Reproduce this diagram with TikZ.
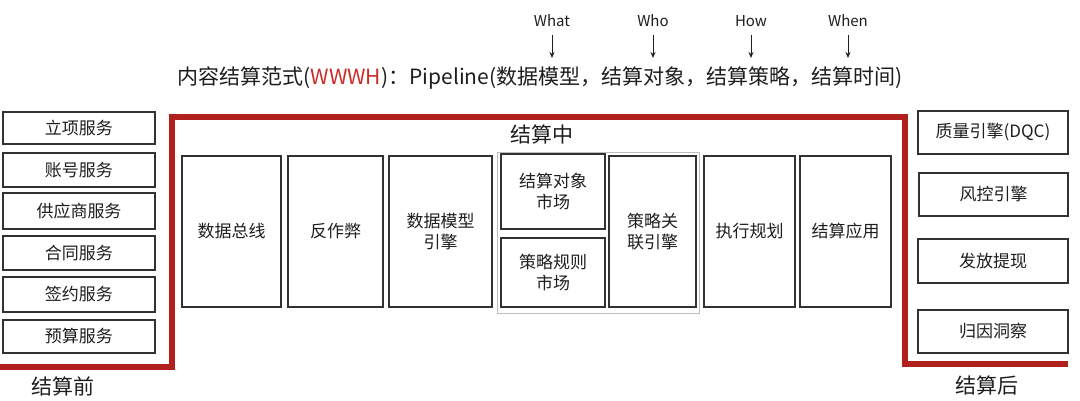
\documentclass[tikz,border=0pt]{standalone}
\usepackage{fontspec}
\setmainfont{Noto Sans CJK SC}
\usetikzlibrary{arrows.meta}
\definecolor{redline}{RGB}{178,32,30}
\definecolor{redtext}{RGB}{205,45,40}
\definecolor{boxline}{RGB}{50,50,50}
\definecolor{grpline}{RGB}{190,190,190}
\definecolor{txt}{RGB}{30,30,30}
\tikzset{
  svc/.style={draw=boxline, line width=1.2pt, inner sep=0pt, text=txt,
    font=\fontsize{17}{21}\selectfont, align=center},
  phase/.style={text=txt, font=\fontsize{21}{24}\selectfont, inner sep=0pt},
  qlabel/.style={text=txt, font=\fontsize{15}{18}\selectfont, inner sep=0pt},
  qarrow/.style={draw=txt, line width=1pt, -{Stealth[length=6pt,width=5pt]}},
  frame/.style={draw=redline, line width=5.5pt}
}
\newcommand{\bx}[6]{% name, x1, y1, x2, y2, text
  \node[svc, minimum width={(#4-#2)*1pt}, minimum height={(#5-#3)*1pt}]
    (#1) at ({(#2+#4)/2},{(#3+#5)/2}) {#6};}
\begin{document}
\begin{tikzpicture}[x=1pt,y=-1pt]
\useasboundingbox[fill=white] (0,0) rectangle (1080,401);

% title
\node[text=txt, font=\fontsize{21}{24}\selectfont, inner sep=0pt] (title) at (540,78)
  {内容结算范式(\textcolor{redtext}{WWWH})：Pipeline(数据模型，结算对象，结算策略，结算时间)};

% question labels and arrows
\node[qlabel] (what) at (552,21) {What};
\node[qlabel] (who)  at (653,21) {Who};
\node[qlabel] (how)  at (751,21) {How};
\node[qlabel] (when) at (848,21) {When};
\coordinate (whatS) at (552,35);
\coordinate (whoS)  at (653,35);
\coordinate (howS)  at (751,35);
\coordinate (whenS) at (848,35);
\coordinate (whatE) at (552,58);
\coordinate (whoE)  at (653,58);
\coordinate (howE)  at (751,58);
\coordinate (whenE) at (848,58);
\draw[qarrow] (whatS) -- (whatE);
\draw[qarrow] (whoS) -- (whoE);
\draw[qarrow] (howS) -- (howE);
\draw[qarrow] (whenS) -- (whenE);

% red frame
\coordinate (f1) at (0,367);
\coordinate (f2) at (172,367);
\coordinate (f3) at (172,117);
\coordinate (f4) at (905,117);
\coordinate (f5) at (905,364);
\coordinate (f6) at (1068,364);
\draw[frame] (f1) -- (f2) -- (f3) -- (f4) -- (f5) -- (f6);

% left services
\bx{s1}{3}{112}{155}{144}{立项服务}
\bx{s2}{3}{153}{155}{187}{账号服务}
\bx{s3}{3}{193}{155}{229}{供应商服务}
\bx{s4}{3}{236}{155}{270}{合同服务}
\bx{s5}{3}{277}{155}{312}{签约服务}
\bx{s6}{3}{320}{155}{353}{预算服务}

% group box
\node[draw=grpline, line width=0.9pt, minimum width=202pt, minimum height=161pt, inner sep=0pt]
  (grp) at (598,232.5) {};

% middle
\bx{m1}{182}{156}{281}{307}{数据总线}
\bx{m2}{288}{156}{383}{307}{反作弊}
\bx{m3}{389}{156}{492}{307}{数据模型\\引擎}
\bx{m4}{501}{154}{605}{229}{结算对象\\市场}
\bx{m5}{501}{238}{605}{307}{策略规则\\市场}
\bx{m6}{609}{156}{696}{307}{策略关\\联引擎}
\bx{m7}{704}{156}{795}{307}{执行规划}
\bx{m8}{800}{156}{891}{307}{结算应用}

% right
\bx{r1}{918}{111}{1068}{154}{质量引擎(DQC)}
\bx{r2}{919}{173}{1068}{216}{风控引擎}
\bx{r3}{918}{239}{1068}{283}{发放提现}
\bx{r4}{918}{310}{1068}{353}{归因洞察}

% phase labels
\node[phase] (pre)  at (63,386)  {结算前};
\node[phase] (mid)  at (542,134) {结算中};
\node[phase] (post) at (987,385) {结算后};
\end{tikzpicture}
\end{document}
